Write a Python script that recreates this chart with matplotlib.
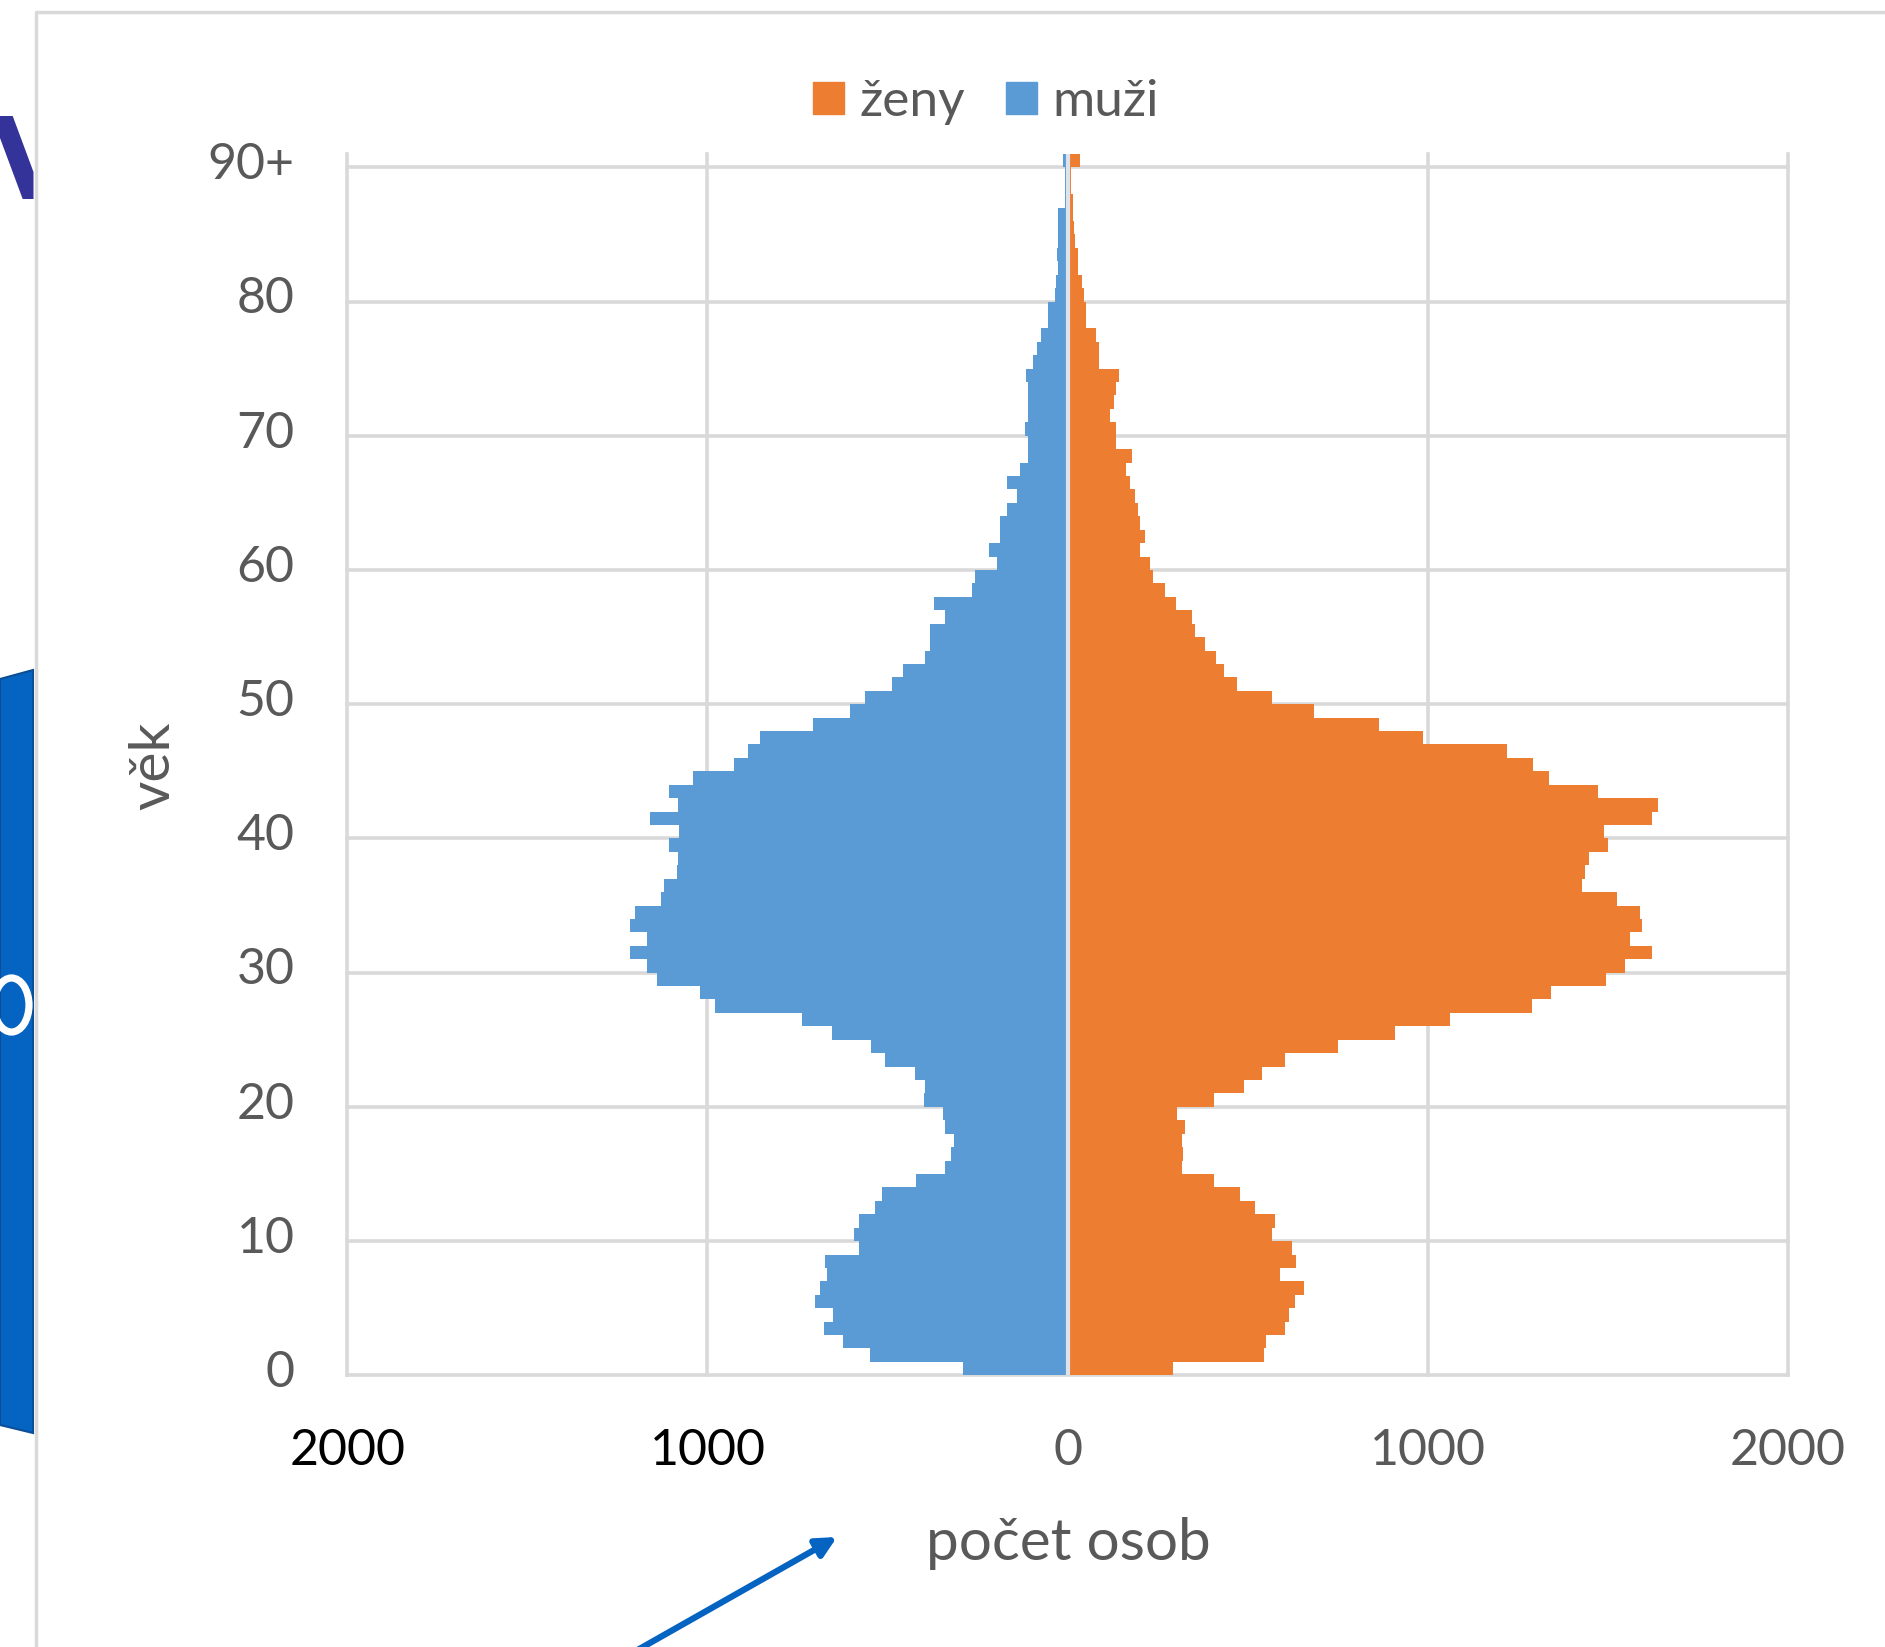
import matplotlib.pyplot as plt
import matplotlib.patches as mpatches
import numpy as np

# ------------------------------------------
# data (age 0 .. 90+)
# ------------------------------------------
ages = np.arange(0, 91)

muzi = [290, 550, 625, 677, 651, 700, 688, 667, 673, 579,
        593, 579, 536, 516, 421, 341, 325, 315, 339, 347,
        399, 397, 425, 506, 546, 655, 738, 978, 1020, 1141,
        1167, 1214, 1169, 1214, 1202, 1129, 1121, 1085, 1083, 1107,
        1079, 1161, 1081, 1107, 1040, 927, 887, 853, 708, 603,
        562, 488, 456, 397, 381, 383, 341, 371, 264, 258,
        196, 218, 188, 188, 167, 141, 167, 131, 111, 109,
        117, 111, 111, 111, 115, 97, 85, 73, 54, 54,
        36, 32, 26, 30, 26, 26, 26, 8, 6, 6,
        14]

zeny = [292, 546, 550, 603, 615, 631, 657, 589, 635, 623,
        569, 575, 520, 480, 407, 317, 321, 317, 325, 304,
        407, 490, 540, 605, 750, 909, 1063, 1290, 1343, 1494,
        1548, 1623, 1563, 1595, 1591, 1526, 1429, 1437, 1448, 1502,
        1490, 1623, 1641, 1472, 1337, 1292, 1220, 986, 865, 685,
        567, 470, 435, 413, 381, 353, 347, 300, 270, 238,
        228, 202, 214, 202, 196, 187, 173, 163, 179, 135,
        135, 117, 129, 135, 143, 87, 87, 79, 52, 50,
        46, 40, 28, 28, 22, 18, 14, 14, 10, 10,
        35]

age_ticks = [0, 10, 20, 30, 40, 50, 60, 70, 80, 90]
age_labels = ['0', '10', '20', '30', '40', '50', '60', '70', '80', '90+']
x_ticks = [-2000, -1000, 0, 1000, 2000]
x_labels = ['2000', '1000', '0', '1000', '2000']
x_label_colors = ['black', 'black', '#595959', '#595959', '#595959']

BLUE = '#5B9BD5'
ORANGE = '#ED7D31'
GRID = '#D9D9D9'
TEXT = '#595959'

plt.rcParams['font.family'] = ['Lato', 'DejaVu Sans']

W, H = 1885, 1647
fig = plt.figure(figsize=(W / 100, H / 100), dpi=100)

# ------------------------------------------
# slide bits behind the chart (pixel coords)
# ------------------------------------------
bg = fig.add_axes([0, 0, 1, 1], zorder=0)
bg.set_xlim(0, W)
bg.set_ylim(H, 0)
bg.axis('off')

# piece of a title letter
bg.add_patch(mpatches.Polygon([(0, 116), (12.7, 116), (33.5, 172), (33.5, 199),
                               (22.7, 199), (0, 138)],
                              closed=True, color='#33339A', lw=0))
# blue shape with a white letter
bg.add_patch(mpatches.Polygon([(0, 679), (33, 670), (33, 1433), (0, 1425)],
                              closed=True, facecolor='#0563C1', edgecolor='#0A4E97', lw=1.5))
bg.add_patch(mpatches.Ellipse((11.5, 1005), 35, 54, fill=False, edgecolor='white', lw=5.2))
# chart area border
bg.plot([36, 36, W + 10], [H + 10, 12, 12], color=GRID, lw=2.5)
# arrow
bg.annotate('', xy=(837, 1537), xytext=(634, 1652),
            arrowprops=dict(arrowstyle='-|>,head_length=0.6,head_width=0.3',
                            color='#0563C1', lw=4.5, mutation_scale=20,
                            shrinkA=0, shrinkB=0))

# ------------------------------------------
# the pyramid
# ------------------------------------------
left, right = 347.4, 1787.7
top, bottom = 153.9, 1375.3
ax = fig.add_axes([left / W, 1 - bottom / H, (right - left) / W, (bottom - top) / H], zorder=2)

ax.barh(ages + 0.5, -np.array(muzi), height=1.0, color=BLUE, linewidth=0, zorder=2)
ax.barh(ages + 0.5, zeny, height=1.0, color=ORANGE, linewidth=0, zorder=2)

for y in age_ticks:
    ax.axhline(y, color=GRID, lw=2.6, zorder=1, clip_on=False)
for x in x_ticks:
    if x != 0:
        ax.axvline(x, color=GRID, lw=2.6, zorder=1, clip_on=False)
ax.axvline(0, color='#DDE3EA', lw=3, zorder=3)

ax.set_xlim(-2000, 2000)
ax.set_ylim(0, 91)
ax.set_yticks(np.array(age_ticks) + 0.5, age_labels)
ax.set_xticks(x_ticks, x_labels)
for lab, c in zip(ax.get_xticklabels(), x_label_colors):
    lab.set_color(c)
ax.tick_params(axis='y', length=0, pad=38, labelsize=36, labelcolor=TEXT)
ax.tick_params(axis='x', length=0, pad=38, labelsize=36)
for s in ax.spines.values():
    s.set_visible(False)

fig.text(153.5 / W, 1 - 766 / H, 'věk', rotation=90, ha='center', va='center',
         fontsize=41, color=TEXT)
fig.text(1068 / W, 1 - 1560 / H, 'počet osob', ha='center', va='baseline',
         fontsize=42, color=TEXT)

handles = [mpatches.Patch(color=ORANGE, label='ženy'),
           mpatches.Patch(color=BLUE, label='muži')]
fig.legend(handles=handles, loc='center', bbox_to_anchor=(986 / W, 1 - 102 / H),
           ncol=2, frameon=False, fontsize=37, handlelength=0.6, handleheight=0.6,
           handletextpad=0.3, columnspacing=0.8, labelcolor=TEXT)

fig.savefig('out.png', dpi=100)
